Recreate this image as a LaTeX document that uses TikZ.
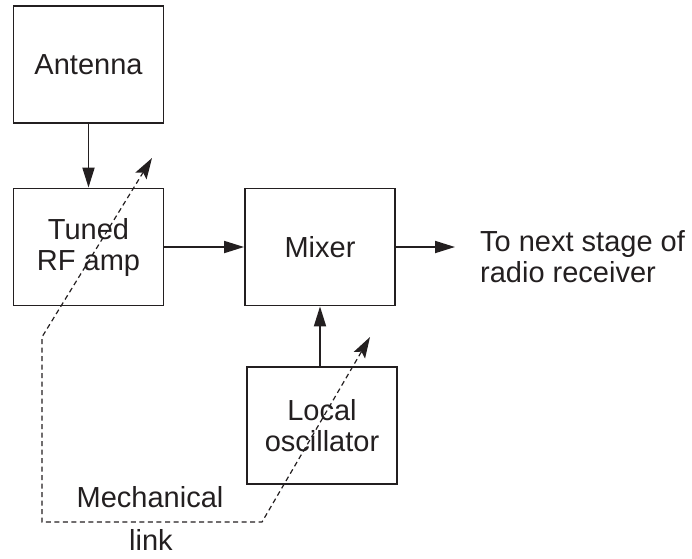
\documentclass[tikz,border=0pt]{standalone}
\usepackage{fontspec}
\setmainfont{Liberation Sans}
\usetikzlibrary{arrows.meta}
\definecolor{ink}{RGB}{35,31,32}
\begin{document}
\begin{tikzpicture}[x=1pt,y=-1pt,
  blk/.style={draw=ink,line width=1.8pt,minimum width=150pt,minimum height=117pt,inner sep=0pt,align=center,font=\fontsize{29}{31}\selectfont,text=ink},
  sig/.style={line width=1.8pt,draw=ink,-{Triangle[length=20pt,width=12pt,fill=ink]}},
  mech/.style={line width=1.2pt,draw=ink,dash pattern=on 5pt off 3.5pt,{Stealth[length=21pt,width=13pt,inset=4pt,fill=ink]}-{Stealth[length=21pt,width=13pt,inset=4pt,fill=ink]}},
  lbl/.style={font=\fontsize{29}{31}\selectfont,text=ink,inner sep=0pt}]
\useasboundingbox (0,0) rectangle (692,558);
\node[blk] (ant) at (88.5,64.5) {Antenna};
\node[blk] (rf) at (88.5,247) {Tuned\\RF amp};
\node[blk] (mix) at (320,247) {Mixer};
\node[blk] (lo) at (322,425.5) {Local\\oscillator};
\coordinate (out) at (455,247);
\node[lbl,anchor=west,align=left] (next) at (480,257) {To next stage of\\radio receiver};
\draw[sig] (ant) -- (rf);
\draw[sig] (rf) -- (mix);
\draw[sig] (mix) -- (out);
\draw[sig] (lo.north -| mix) -- (mix.south);
\coordinate (t1) at (152,158);
\coordinate (m1) at (42,337);
\coordinate (m2) at (42,522);
\coordinate (m3) at (262,522);
\coordinate (t2) at (370,337);
\draw[mech] (t1) -- (m1) -- (m2) -- (m3) -- (t2);
\node[lbl,anchor=base] (mech1) at (150,507) {Mechanical};
\node[lbl,anchor=base] (mech2) at (151,550) {link};
\end{tikzpicture}
\end{document}
